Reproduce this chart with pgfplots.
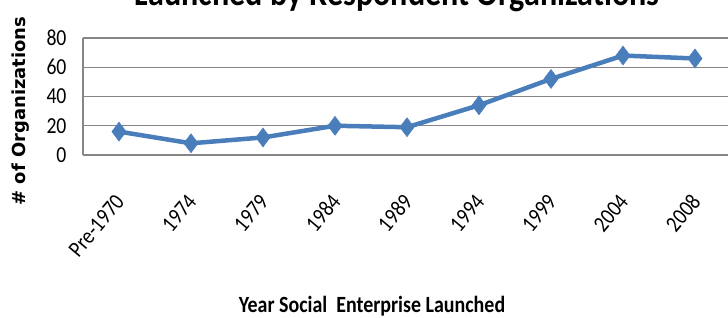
\documentclass[border=0pt]{standalone}
\usepackage{pgfplots}
\pgfplotsset{compat=1.18}
\usepackage{fontspec}
\setmainfont{Carlito}
\newfontfamily\calc[FakeStretch=0.86]{Carlito}
\newfontfamily\dv{DejaVu Sans}
\definecolor{lineblue}{HTML}{4A7EBB}
\definecolor{gridgray}{HTML}{868686}
\begin{document}
\begin{tikzpicture}[x=1bp,y=1bp]
\begin{axis}[
  at={(83bp,-155bp)}, anchor=south west,
  scale only axis, width=648bp, height=117bp,
  xmin=-0.5, xmax=8.5, ymin=0, ymax=80,
  xtick={0,...,8},
  xticklabels={Pre-1970,1974,1979,1984,1989,1994,1999,2004,2008},
  ytick={0,20,40,60,80},
  /pgf/number format/assume math mode=true,
  ymajorgrids, grid style={gridgray, line width=1.3bp},
  axis x line*=bottom, axis y line*=left,
  axis line style={gridgray, line width=1.8bp, -},
  major tick length=0pt,
  tick label style={font=\calc\fontsize{23}{23}\selectfont},
  yticklabel style={xshift=-13bp},
  xticklabel style={xshift=3bp, yshift=-40bp, rotate=50, anchor=east},
  clip=false,
]
\addplot[lineblue, line width=4.5bp, mark=diamond*, mark size=9.5bp, mark options={solid, fill=lineblue, draw=lineblue, line width=0.5bp}]
  coordinates {(0,16) (1,8) (2,12) (3,20) (4,19) (5,34) (6,52) (7,68) (8,66)};
\end{axis}
\node[rotate=90, font=\dv\bfseries\fontsize{18}{18}\selectfont] at (21bp,-111bp) {\# of Organizations};
\node[font=\calc\bfseries\fontsize{23.3}{23.3}\selectfont] at (372bp,-306bp) {Year Social\ \ Enterprise Launched};
\node[font=\calc\bfseries\fontsize{37.5}{37.5}\selectfont, anchor=base] at (397bp,-5bp) {Launched by Respondent Organizations};
\pgfresetboundingbox
\useasboundingbox (0,0) rectangle (728bp,-318bp);
\end{tikzpicture}
\end{document}
